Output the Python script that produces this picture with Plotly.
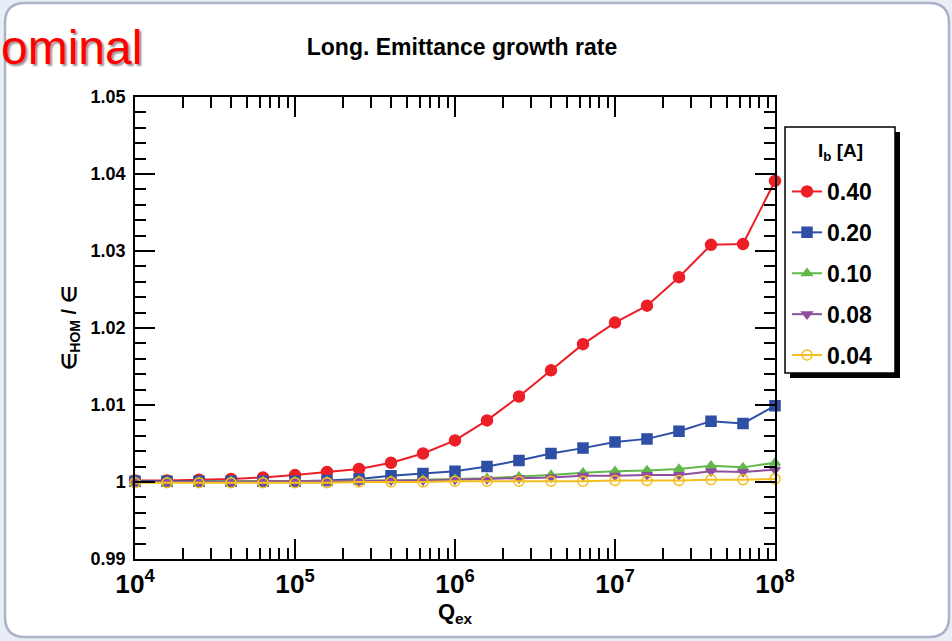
import plotly.graph_objects as go

# Q_ex sample points (0.2 decade steps from 1e4 to 1e8)
q_ex = [1.0e4, 1.585e4, 2.512e4, 3.981e4, 6.310e4,
        1.0e5, 1.585e5, 2.512e5, 3.981e5, 6.310e5,
        1.0e6, 1.585e6, 2.512e6, 3.981e6, 6.310e6,
        1.0e7, 1.585e7, 2.512e7, 3.981e7, 6.310e7,
        1.0e8]

# emittance ratio eps_HOM / eps for each beam current
ratio_040 = [1.0002, 1.0002, 1.0003, 1.0004, 1.0006,
             1.0009, 1.0013, 1.0017, 1.0025, 1.0037,
             1.0054, 1.0080, 1.0111, 1.0145, 1.0179,
             1.0207, 1.0229, 1.0266, 1.0308, 1.0309,
             1.0391]
ratio_020 = [1.0001, 1.0001, 1.0001, 1.0001, 1.0001,
             1.0001, 1.0002, 1.0004, 1.0008, 1.0011,
             1.0014, 1.0020, 1.0028, 1.0037, 1.0044,
             1.0052, 1.0056, 1.0066, 1.0079, 1.0076,
             1.0099]
ratio_010 = [1.0000, 1.0000, 1.0000, 1.0001, 1.0001,
             1.0001, 1.0001, 1.0002, 1.0002, 1.0003,
             1.0004, 1.0005, 1.0007, 1.0009, 1.0012,
             1.0014, 1.0015, 1.0017, 1.0021, 1.0019,
             1.0025]
ratio_008 = [1.0000, 1.0000, 1.0000, 1.0000, 1.0001,
             1.0001, 1.0001, 1.0001, 1.0002, 1.0002,
             1.0003, 1.0004, 1.0005, 1.0006, 1.0008,
             1.0008, 1.0009, 1.0009, 1.0014, 1.0013,
             1.0016]
ratio_004 = [0.9999, 0.9999, 0.9999, 0.9999, 0.9999,
             0.9999, 0.9999, 1.0000, 1.0000, 1.0000,
             1.0001, 1.0001, 1.0001, 1.0001, 1.0001,
             1.0002, 1.0002, 1.0002, 1.0003, 1.0003,
             1.0004]

currents = ["0.40", "0.20", "0.10", "0.08", "0.04"]
series = [ratio_040, ratio_020, ratio_010, ratio_008, ratio_004]

y_ticks = [0.99, 1.00, 1.01, 1.02, 1.03, 1.04, 1.05]
y_tick_labels = ["0.99", "1", "1.01", "1.02", "1.03", "1.04", "1.05"]

# styling per curve
colors = ["#ec1f27", "#2f4fa6", "#62b84a", "#8f4f9f", "#f4bf1e"]
symbols = ["circle", "square", "triangle-up", "triangle-down", "circle-open"]
msizes = [11, 10, 9, 9, 10]

W, H = 952, 641
L, R, T, B = 135, 177, 97, 82
PW, PH = W - L - R, H - T - B


def px_x(px):
    return (px - L) / PW


def py_y(py):
    return (H - B - py) / PH


FONT = "Liberation Sans, Arial, Helvetica, sans-serif"

fig = go.Figure()
for cur, vals, col, sym, ms in zip(currents, series, colors, symbols, msizes):
    fig.add_trace(go.Scatter(
        x=q_ex, y=vals, name=cur, mode="lines+markers",
        legendgroup=cur,
        line=dict(color=col, width=2),
        marker=dict(symbol=sym, size=ms, color=col,
                    line=dict(color=col, width=1.5)),
        cliponaxis=False,
    ))

# rounded slide panel
x0, y0, x1, y1, r = px_x(5), py_y(3), px_x(949), py_y(637), 20
rx, ry = r / PW, r / PH
panel_path = (
    f"M {x0 + rx},{y0} L {x1 - rx},{y0} Q {x1},{y0} {x1},{y0 - ry} "
    f"L {x1},{y1 + ry} Q {x1},{y1} {x1 - rx},{y1} "
    f"L {x0 + rx},{y1} Q {x0},{y1} {x0},{y1 + ry} "
    f"L {x0},{y0 - ry} Q {x0},{y0} {x0 + rx},{y0} Z"
)

shapes = [
    dict(type="path", xref="paper", yref="paper", path=panel_path,
         fillcolor="white", line=dict(color="#aab3c9", width=2.5), layer="below"),
    # legend shadow and box
    dict(type="rect", xref="paper", yref="paper",
         x0=px_x(790), x1=px_x(900), y0=py_y(378), y1=py_y(132),
         fillcolor="black", line=dict(width=0), layer="above"),
    dict(type="rect", xref="paper", yref="paper",
         x0=px_x(785), x1=px_x(895), y0=py_y(373), y1=py_y(127),
         fillcolor="white", line=dict(color="black", width=1.5), layer="above"),
]

annotations = [
    dict(text="ominal", xref="paper", yref="paper", x=px_x(-1), y=py_y(47),
         xanchor="left", yanchor="middle", showarrow=False,
         font=dict(family=FONT, size=48, color="#ff0000",
                   shadow="2px 2px 2px rgba(40,0,0,0.45)")),
    # legend heading
    dict(text="I<sub>b</sub> [A]", xref="paper", yref="paper",
         x=px_x(840), y=py_y(152), xanchor="center", yanchor="middle",
         showarrow=False,
         font=dict(family=FONT, size=19, color="black", weight="bold")),
]

axis_common = dict(
    showline=True, linecolor="black", linewidth=1.5, mirror="allticks",
    ticks="inside", tickcolor="black", tickwidth=1.5, ticklen=20,
    showgrid=False, zeroline=False,
)

fig.update_layout(
    width=W, height=H,
    margin=dict(l=L, r=R, t=T, b=B),
    paper_bgcolor="#e9eef6", plot_bgcolor="white",
    title=dict(text="Long. Emittance growth rate", x=462 / W, xanchor="center",
               y=1 - 47 / H, yanchor="middle", yref="container",
               font=dict(family=FONT, size=23, color="black", weight="bold")),
    xaxis=dict(type="log", range=[4, 8], dtick=1, exponentformat="power",
               minor=dict(ticks="inside", ticklen=11, tickwidth=1.5,
                          tickcolor="black", dtick="D1"),
               title=dict(text="Q<sub>ex</sub>", standoff=2,
                          font=dict(family=FONT, size=22, color="black", weight="bold")),
               tickfont=dict(family=FONT, size=21, color="black", weight="bold"),
               ticklabelstandoff=2,
               **axis_common),
    yaxis=dict(range=[0.99, 1.05], tickvals=y_ticks, ticktext=y_tick_labels,
               minor=dict(ticks="inside", ticklen=11, tickwidth=1.5,
                          tickcolor="black", dtick=0.002),
               title=dict(text="∈<sub>HOM</sub> / ∈", standoff=9,
                          font=dict(family=FONT, size=20, color="black", weight="bold")),
               tickfont=dict(family=FONT, size=18, color="black", weight="bold"),
               ticklabelstandoff=4,
               **axis_common),
    legend=dict(
        x=px_x(787), y=py_y(170), xanchor="left", yanchor="top",
        bgcolor="rgba(0,0,0,0)", borderwidth=0,
        font=dict(family=FONT, size=23, color="black", weight="bold"),
        tracegroupgap=8, itemwidth=30,
    ),
    shapes=shapes,
    annotations=annotations,
    showlegend=True,
)

fig.write_html("out.html")
